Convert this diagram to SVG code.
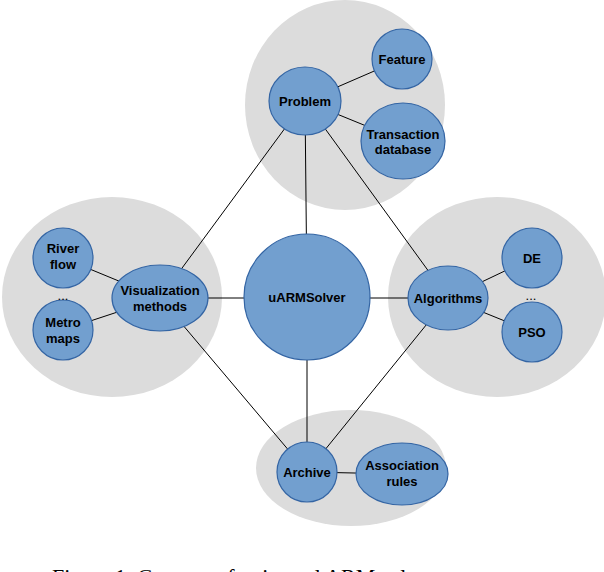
<svg xmlns="http://www.w3.org/2000/svg" width="604" height="572" viewBox="0 0 604 572">
<style>
.g{fill:#dcdcdc}
.n{fill:#729fcf;stroke:#3465a4;stroke-width:1.2}
.t{font-family:"Liberation Sans",Arial,sans-serif;font-weight:bold;font-size:13px;text-anchor:middle;fill:#000}
.c line{stroke:#000;stroke-width:1}
</style>
<rect width="604" height="572" fill="#fff"/>
<ellipse class="g" cx="345" cy="105" rx="100" ry="105"/>
<ellipse class="g" cx="112" cy="297" rx="110" ry="100"/>
<ellipse class="g" cx="497" cy="297" rx="109" ry="100"/>
<ellipse class="g" cx="351" cy="468" rx="95" ry="58"/>
<g class="c" id="connectors">
<line x1="305" y1="101" x2="402" y2="59"/>
<line x1="305" y1="101" x2="403" y2="141"/>
<line x1="305" y1="101" x2="160" y2="298"/>
<line x1="305" y1="101" x2="307" y2="297"/>
<line x1="305" y1="101" x2="448" y2="298"/>
<line x1="160" y1="298" x2="448" y2="298"/>
<line x1="160" y1="298" x2="307" y2="472"/>
<line x1="448" y1="298" x2="307" y2="472"/>
<line x1="307" y1="297" x2="307" y2="472"/>
<line x1="307" y1="472" x2="402" y2="474"/>
<line x1="63" y1="258" x2="160" y2="298"/>
<line x1="63" y1="330" x2="160" y2="298"/>
<line x1="532" y1="258" x2="448" y2="298"/>
<line x1="532" y1="332" x2="448" y2="298"/>
</g>
<g id="feature"><circle class="n" cx="402" cy="59" r="30"/><text class="t" x="402" y="64">Feature</text></g>
<g id="transaction"><ellipse class="n" cx="403" cy="141" rx="42" ry="38"/><text class="t" x="403" y="139">Transaction</text><text class="t" x="403" y="154">database</text></g>
<g id="problem"><ellipse class="n" cx="305" cy="101" rx="36" ry="34"/><text class="t" x="305" y="106">Problem</text></g>
<g id="uarm"><circle class="n" cx="307" cy="297" r="63"/><text class="t" x="307" y="302">uARMSolver</text></g>
<g id="viz"><ellipse class="n" cx="160" cy="298" rx="48" ry="33"/><text class="t" x="160" y="295">Visualization</text><text class="t" x="160" y="311">methods</text></g>
<g id="river"><circle class="n" cx="63" cy="258" r="30"/><text class="t" x="63" y="253">River</text><text class="t" x="63" y="269">flow</text></g>
<g id="metro"><circle class="n" cx="63" cy="330" r="30"/><text class="t" x="63" y="327">Metro</text><text class="t" x="63" y="343">maps</text></g>
<text class="t" x="63" y="300" style="font-weight:normal">...</text>
<g id="alg"><ellipse class="n" cx="448" cy="298" rx="40" ry="32"/><text class="t" x="448" y="303">Algorithms</text></g>
<g id="de"><circle class="n" cx="532" cy="258" r="30"/><text class="t" x="532" y="263">DE</text></g>
<g id="pso"><circle class="n" cx="532" cy="332" r="30"/><text class="t" x="532" y="337">PSO</text></g>
<text class="t" x="531" y="300" style="font-weight:normal">...</text>
<g id="archive"><circle class="n" cx="307" cy="472" r="30"/><text class="t" x="307" y="477">Archive</text></g>
<g id="assoc"><ellipse class="n" cx="402" cy="474" rx="46" ry="31"/><text class="t" x="402" y="470">Association</text><text class="t" x="402" y="486">rules</text></g>
<text x="52" y="584" style="font-family:'Liberation Serif','Times New Roman',serif;font-size:22px">Figure 1: Concept of universal ARM solver.</text>
</svg>
